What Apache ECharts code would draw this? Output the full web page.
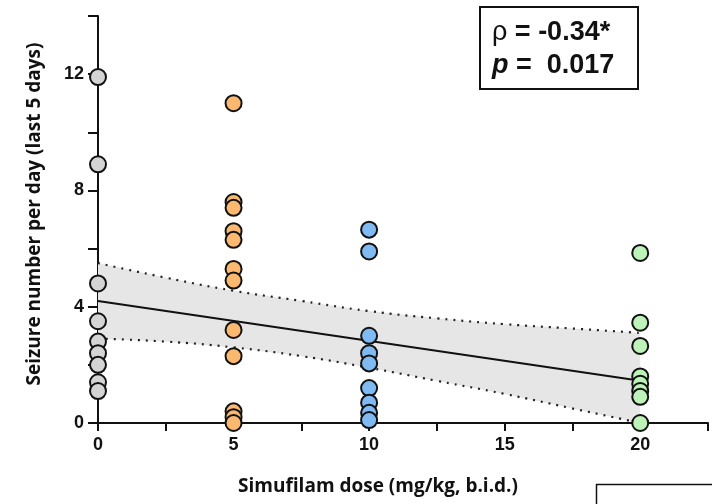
<!DOCTYPE html>
<html>
<head>
<meta charset="utf-8">
<script src="https://cdn.jsdelivr.net/npm/echarts@6/dist/echarts.min.js"></script>
<style>
  html, body { margin: 0; padding: 0; background: #fff; }
  #chart { width: 712px; height: 504px; }
</style>
</head>
<body>
<div id="chart"></div>
<script>
// seizure counts, one array per dose group
const dose0 = [11.9, 8.9, 4.8, 3.5, 2.8, 2.4, 2.0, 1.4, 1.1];
const dose5 = [11.0, 7.6, 7.4, 6.6, 6.3, 5.3, 4.9, 3.2, 2.3, 0.4, 0.2, 0.0];
const dose10 = [6.65, 5.9, 3.0, 2.4, 2.05, 1.2, 0.7, 0.35, 0.1];
const dose20 = [5.85, 3.45, 2.65, 1.6, 1.35, 1.1, 0.9, 0.0];

// regression line and its 95% band
const fitX = [0, 20];
const fitY = [4.2, 1.45];
const bandX = [0, 2.5, 5, 7.5, 10, 12.5, 15, 17.5, 20];
const bandUpper = [5.5, 5.0, 4.55, 4.2, 3.85, 3.6, 3.4, 3.25, 3.1];
const bandLower = [2.9, 2.8, 2.6, 2.3, 1.9, 1.45, 1.0, 0.5, 0.0];

const xTicks = { min: 0, max: 22.5, step: 2.5, labelEvery: 5 };
const yTicks = { min: 0, max: 14, step: 2, labelEvery: 4 };

const groups = [
  { x: 0, vals: dose0, color: '#d4d4d4' },
  { x: 5, vals: dose5, color: '#fbb96f' },
  { x: 10, vals: dose10, color: '#7fbaf3' },
  { x: 20, vals: dose20, color: '#bdf2b9' }
];

const chart = echarts.init(document.getElementById('chart'));

const labelFont = { fontFamily: 'Liberation Sans', fontWeight: 'bold', fontSize: 18, color: '#111' };
const titleFont = { fontFamily: 'Open Sans', fontWeight: 'bold', fontSize: 19, fill: '#111' };

const scatterSeries = groups.map(g => ({
  type: 'scatter',
  data: g.vals.map(v => [g.x, v]),
  symbol: 'circle',
  symbolSize: 16,
  z: 5,
  clip: false,
  itemStyle: { color: g.color, borderColor: '#111', borderWidth: 2, opacity: 1 }
}));

const option = {
  animation: false,
  grid: { left: 98, right: 4, top: 16, bottom: 81 },
  xAxis: {
    type: 'value',
    min: xTicks.min,
    max: xTicks.max,
    interval: xTicks.step,
    axisLine: { lineStyle: { color: '#111', width: 2 } },
    axisTick: { length: 8, lineStyle: { color: '#111', width: 2 } },
    axisLabel: Object.assign({
      margin: 13,
      formatter: v => (v % xTicks.labelEvery === 0 && v < xTicks.max) ? String(v) : ''
    }, labelFont),
    splitLine: { show: false }
  },
  yAxis: {
    type: 'value',
    min: yTicks.min,
    max: yTicks.max,
    interval: yTicks.step,
    axisLine: { lineStyle: { color: '#111', width: 2 } },
    axisTick: { length: 10, lineStyle: { color: '#111', width: 2 } },
    axisLabel: Object.assign({
      margin: 14,
      formatter: v => (v % yTicks.labelEvery === 0 && v < yTicks.max) ? String(v) : ''
    }, labelFont),
    splitLine: { show: false }
  },
  series: [
    {
      // confidence band drawn as one polygon through the axis scales
      type: 'custom',
      data: [0],
      z: 1,
      renderItem: (params, api) => {
        const top = bandX.map((x, i) => api.coord([x, bandUpper[i]]));
        const bottom = bandX.map((x, i) => api.coord([x, bandLower[i]])).reverse();
        return {
          type: 'polygon',
          shape: { points: top.concat(bottom) },
          style: { fill: '#e6e6e6', stroke: 'none' }
        };
      }
    },
    {
      type: 'line',
      data: bandX.map((x, i) => [x, bandUpper[i]]),
      symbol: 'none',
      smooth: true,
      lineStyle: { color: '#222', width: 2.2, type: [2, 6] },
      z: 2
    },
    {
      type: 'line',
      data: bandX.map((x, i) => [x, bandLower[i]]),
      symbol: 'none',
      smooth: true,
      lineStyle: { color: '#222', width: 2.2, type: [2, 6] },
      z: 2
    },
    {
      type: 'line',
      data: fitX.map((x, i) => [x, fitY[i]]),
      symbol: 'none',
      lineStyle: { color: '#111', width: 2 },
      z: 3
    }
  ].concat(scatterSeries),
  graphic: [
    {
      type: 'rect',
      z: 100,
      left: 479, top: 6,
      shape: { width: 158, height: 82 },
      style: { fill: '#fff', stroke: '#111', lineWidth: 2 }
    },
    {
      type: 'text',
      z: 101,
      x: 492, y: 33,
      style: {
        text: '{a|ρ }{b|= -0.34*}',
        verticalAlign: 'middle',
        rich: {
          a: { fontFamily: 'Liberation Sans', fontSize: 27, fill: '#111' },
          b: { fontFamily: 'Liberation Sans', fontWeight: 'bold', fontSize: 27, fill: '#111' }
        }
      }
    },
    {
      type: 'text',
      z: 101,
      x: 492, y: 66,
      style: {
        text: '{a|p }{b|=  0.017}',
        verticalAlign: 'middle',
        rich: {
          a: { fontFamily: 'Liberation Sans', fontWeight: 'bold', fontStyle: 'italic', fontSize: 27, fill: '#111' },
          b: { fontFamily: 'Liberation Sans', fontWeight: 'bold', fontSize: 27, fill: '#111' }
        }
      }
    },
    {
      type: 'text',
      z: 100,
      x: 35, y: 214,
      rotation: Math.PI / 2,
      style: Object.assign({
        text: 'Seizure number per day (last 5 days)',
        align: 'center', verticalAlign: 'middle'
      }, titleFont)
    },
    {
      type: 'text',
      z: 100,
      x: 378, y: 487,
      style: Object.assign({
        text: 'Simufilam dose (mg/kg, b.i.d.)',
        align: 'center', verticalAlign: 'middle'
      }, titleFont)
    },
    {
      type: 'rect',
      z: 100,
      left: 594, top: 482,
      shape: { width: 140, height: 60 },
      style: { fill: 'none', stroke: '#111', lineWidth: 1.5 }
    }
  ]
};

chart.setOption(option);
</script>
</body>
</html>
